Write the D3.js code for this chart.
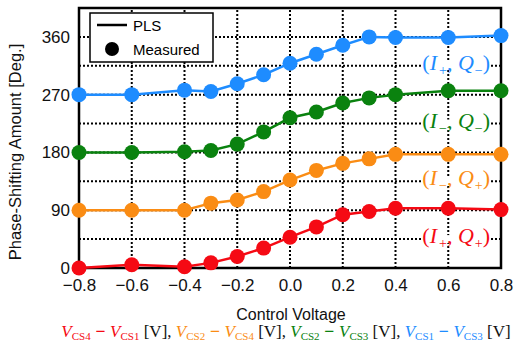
<!DOCTYPE html>
<html>
<head>
<meta charset="utf-8">
<script src="https://cdn.jsdelivr.net/npm/d3@7"></script>
<style>
  body { margin: 0; background: #fff; }
  svg { font-family: "Liberation Sans", Arial, sans-serif; }
</style>
</head>
<body>
<div id="chart"></div>
<script>
// control voltage (x) and measured phase shift per state (deg)
const voltages = [-0.8, -0.6, -0.4, -0.3, -0.2, -0.1, 0, 0.1, 0.2, 0.3, 0.4, 0.6, 0.8];
const redVals    = [0, 5, 2, 8, 18, 31, 48, 64, 83, 88, 93, 93, 91];
const orangeVals = [90, 90, 90, 101, 106, 119, 137, 152, 163, 170, 177, 177, 177];
const greenVals  = [180, 180, 181, 183, 193, 212, 234, 243, 257, 265, 270, 276, 276];
const blueVals   = [270, 270, 277, 275, 287, 301, 319, 333, 347, 360, 359, 359, 362];

const xTicks = [-0.8, -0.6, -0.4, -0.2, 0, 0.2, 0.4, 0.6, 0.8];
const yTicks = [0, 90, 180, 270, 360];
const yGrid = d3.range(45, 405, 45);

const series = [
  {name: "red", vals: redVals, color: "#f50a14", sub1: "+", sub2: "+", at: 45},
  {name: "orange", vals: orangeVals, color: "#fa8c14", sub1: "−", sub2: "+", at: 135},
  {name: "green", vals: greenVals, color: "#0a820f", sub1: "−", sub2: "−", at: 225},
  {name: "blue", vals: blueVals, color: "#1e8cff", sub1: "+", sub2: "−", at: 315}
];

const W = 521, H = 350;
const margin = {top: 8, right: 20, bottom: 82, left: 79};

const svg = d3.select("#chart").append("svg")
    .attr("width", W)
    .attr("height", H);

const x = d3.scaleLinear().domain([-0.8, 0.8]).range([margin.left, W - margin.right]);
const y = d3.scaleLinear().domain([0, 405]).range([H - margin.bottom, margin.top]);

// grid
const grid = svg.append("g").attr("stroke", "#000").attr("stroke-width", 2).attr("stroke-dasharray", "2,2");
grid.selectAll(".vg").data(xTicks.slice(1, -1)).enter().append("line")
    .attr("x1", d => x(d)).attr("x2", d => x(d))
    .attr("y1", y.range()[0]).attr("y2", y.range()[1]);
grid.selectAll(".hg").data(yGrid).enter().append("line")
    .attr("x1", x.range()[0]).attr("x2", x.range()[1])
    .attr("y1", d => y(d)).attr("y2", d => y(d));

// axes (labels only, no tick marks)
const xAxis = svg.append("g")
    .attr("transform", `translate(0,${y.range()[0]})`)
    .call(d3.axisBottom(x).tickValues(xTicks).tickSize(0).tickPadding(11)
        .tickFormat(d => d3.format(".1f")(d).replace("-", "−")));
xAxis.select(".domain").remove();
xAxis.selectAll("text").attr("font-size", 17).attr("fill", "#111").attr("font-family", "Liberation Sans, Arial");

const yAxis = svg.append("g")
    .attr("transform", `translate(${x.range()[0]},0)`)
    .call(d3.axisLeft(y).tickValues(yTicks).tickSize(0).tickPadding(9));
yAxis.select(".domain").remove();
yAxis.selectAll("text").attr("font-size", 17).attr("fill", "#111").attr("font-family", "Liberation Sans, Arial");

// state labels like (I+, Q-), with white box over the grid
series.forEach(s => {
  const g = svg.append("g");
  const bg = g.append("rect").attr("fill", "#fff");
  const t = g.append("text")
      .attr("x", 490).attr("y", y(s.at) + 4)
      .attr("text-anchor", "end")
      .attr("font-family", "Liberation Serif, Times New Roman, serif")
      .attr("font-size", 22)
      .attr("fill", s.color);
  t.append("tspan").text("(");
  t.append("tspan").attr("font-style", "italic").text("I");
  t.append("tspan").attr("font-size", 14).attr("dy", 5).attr("dx", 2).text(s.sub1);
  t.append("tspan").attr("dy", -5).text(", ");
  t.append("tspan").attr("font-style", "italic").text("Q");
  t.append("tspan").attr("font-size", 14).attr("dy", 5).attr("dx", 1).text(s.sub2);
  t.append("tspan").attr("dy", -5).text(")");
  const b = t.node().getBBox();
  bg.attr("x", b.x).attr("y", y(s.at) - 4).attr("width", b.width).attr("height", 8);
});

// frame
svg.append("rect")
    .attr("x", x.range()[0]).attr("y", y.range()[1])
    .attr("width", x.range()[1] - x.range()[0])
    .attr("height", y.range()[0] - y.range()[1])
    .attr("fill", "none").attr("stroke", "#000").attr("stroke-width", 2.5);

// series
const line = d3.line().x((d, i) => x(voltages[i])).y(d => y(d));
series.forEach(s => {
  const g = svg.append("g");
  g.append("path").datum(s.vals)
      .attr("d", line)
      .attr("fill", "none")
      .attr("stroke", s.color)
      .attr("stroke-width", 2.5);
  g.selectAll("circle").data(s.vals).enter().append("circle")
      .attr("cx", (d, i) => x(voltages[i]))
      .attr("cy", d => y(d))
      .attr("r", 7.5)
      .attr("fill", s.color);
});

// legend
const lg = svg.append("g");
lg.append("rect").attr("x", 90).attr("y", 13).attr("width", 123).attr("height", 49)
    .attr("fill", "#fff").attr("stroke", "#000").attr("stroke-width", 1.5);
lg.append("line").attr("x1", 97).attr("x2", 127).attr("y1", 25).attr("y2", 25)
    .attr("stroke", "#000").attr("stroke-width", 2.5);
lg.append("circle").attr("cx", 112).attr("cy", 49).attr("r", 7).attr("fill", "#000");
lg.append("text").attr("x", 133).attr("y", 31).attr("font-size", 15).text("PLS");
lg.append("text").attr("x", 133).attr("y", 55).attr("font-size", 15).text("Measured");

// axis titles
svg.append("text")
    .attr("transform", `translate(21,${(y.range()[0] + y.range()[1]) / 2 + 14}) rotate(-90)`)
    .attr("text-anchor", "middle")
    .attr("font-size", 16.5)
    .attr("fill", "#111")
    .text("Phase-Shifting Amount [Deg.]");

svg.append("text")
    .attr("x", 291).attr("y", 320)
    .attr("text-anchor", "middle")
    .attr("font-size", 16)
    .attr("fill", "#111")
    .text("Control Voltage");

// voltage definitions line
const defs = [
  {color: "#f50a14", a: "CS4", b: "CS1"},
  {color: "#fa8c14", a: "CS2", b: "CS4"},
  {color: "#0a820f", a: "CS2", b: "CS3"},
  {color: "#1e8cff", a: "CS1", b: "CS3"}
];
const sub = svg.append("text")
    .attr("x", 286).attr("y", 337)
    .attr("text-anchor", "middle")
    .attr("font-family", "Liberation Serif, Times New Roman, serif")
    .attr("font-size", 17);
defs.forEach((d, i) => {
  sub.append("tspan").attr("fill", d.color).attr("font-style", "italic").text("V");
  sub.append("tspan").attr("fill", d.color).attr("font-size", 11).attr("dy", 3).text(d.a);
  sub.append("tspan").attr("fill", d.color).attr("dy", -3).attr("font-family", "Liberation Sans, Arial").text(" − ");
  sub.append("tspan").attr("fill", d.color).attr("font-style", "italic").text("V");
  sub.append("tspan").attr("fill", d.color).attr("font-size", 11).attr("dy", 3).text(d.b);
  sub.append("tspan").attr("fill", "#111").attr("dy", -3).text(i < defs.length - 1 ? " [V], " : " [V]");
});
</script>
</body>
</html>
